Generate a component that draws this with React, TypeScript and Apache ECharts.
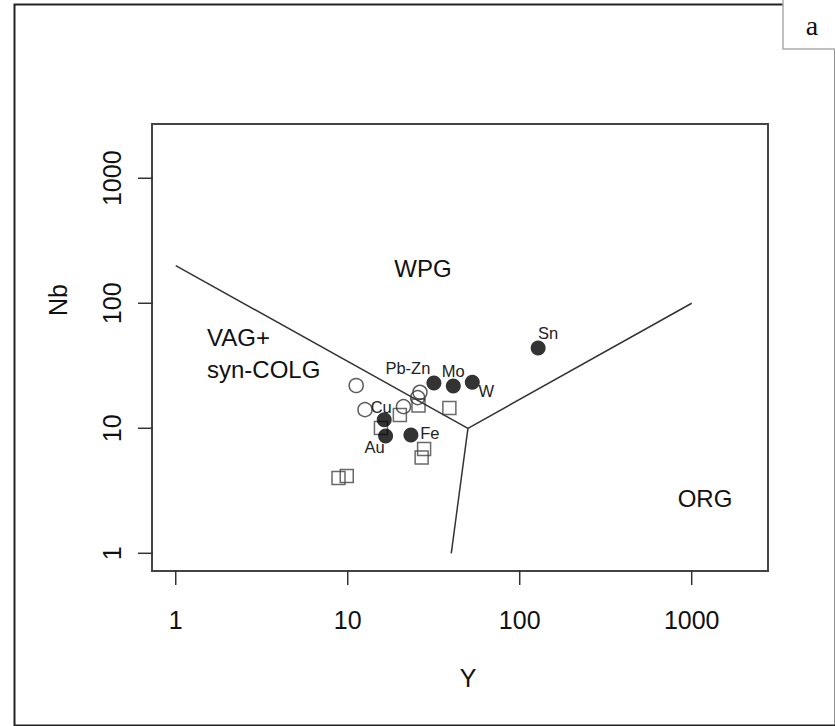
import React, { useEffect, useRef } from "react";
import * as echarts from "echarts";

// ---- Data (Y ppm, Nb ppm) ----
const filledNames = ["Sn", "Pb-Zn", "Mo", "W", "Cu", "Au", "Fe"];
const filledY = [128, 31.7, 41.1, 53, 16.3, 16.6, 23.3];
const filledNb = [43.9, 23.0, 21.8, 23.3, 11.7, 8.68, 8.84];

const openCircleY = [11.2, 12.6, 21.1, 26.3, 25.5];
const openCircleNb = [22.0, 14.1, 14.9, 19.4, 17.6];

const squareY = [15.6, 20.1, 25.8, 39.0, 27.8, 26.9, 8.84, 9.87];
const squareNb = [10.05, 12.8, 15.2, 14.5, 6.83, 5.84, 4.0, 4.15];

// Field boundaries (Pearce et al. 1984)
const boundaryUpper = [[1, 200], [50, 10], [1000, 100]];
const boundaryLower = [[50, 10], [40, 1]];

// Field names and anchor points
const fieldNames = ["WPG", "VAG+", "syn-COLG", "ORG"];
const fieldY = [27.4, 1.52, 1.52, 1195];
const fieldNb = [188, 52.8, 29.3, 2.72];

// Axis ticks
const xTicks = [1, 10, 100, 1000];
const yTicks = [1, 10, 100, 1000];
const tickLabels = ["1", "10", "100", "1000"];

// ---- Layout / style (not data) ----
const pointLabelOffsets = [[10, -15], [-26, -15], [0, -15], [14, 9], [-3, -13], [-11, 11], [19, -2]];
const fieldAlign = ["center", "left", "left", "center"];
const FONT = "'Liberation Sans', Arial, sans-serif";
const X_MIN = Math.pow(10, -0.138);
const X_MAX = Math.pow(10, 3.4436);
const Y_MIN = Math.pow(10, -0.1416);
const Y_MAX = Math.pow(10, 3.434);

export default function App() {
  const ref = useRef<HTMLDivElement>(null);
  useEffect(() => {
    if (!ref.current) return;
    const chart = echarts.init(ref.current, undefined, { renderer: "svg" });
    const option: any = {
      animation: false,
      backgroundColor: "#ffffff",
      grid: {
        left: 152, top: 124, width: 616, height: 447,
        show: true, borderColor: "#444", borderWidth: 2, backgroundColor: "transparent",
      },
      xAxis: {
        type: "log", logBase: 10, min: X_MIN, max: X_MAX,
        axisLine: { show: false }, axisTick: { show: false },
        axisLabel: { show: false }, splitLine: { show: false },
      },
      yAxis: {
        type: "log", logBase: 10, min: Y_MIN, max: Y_MAX,
        axisLine: { show: false }, axisTick: { show: false },
        axisLabel: { show: false }, splitLine: { show: false },
      },
      series: [
        {
          type: "line", data: boundaryUpper, showSymbol: false, silent: true,
          lineStyle: { color: "#333", width: 1.5 },
        },
        {
          type: "line", data: boundaryLower, showSymbol: false, silent: true,
          lineStyle: { color: "#333", width: 1.5 },
        },
        {
          type: "scatter", symbol: "rect", symbolSize: 13,
          data: squareY.map((v, i) => [v, squareNb[i]]),
          itemStyle: { color: "rgba(0,0,0,0)", borderColor: "#444", borderWidth: 1.5 },
        },
        {
          type: "scatter", symbol: "circle", symbolSize: 14,
          data: openCircleY.map((v, i) => [v, openCircleNb[i]]),
          itemStyle: { color: "rgba(0,0,0,0)", borderColor: "#333", borderWidth: 1.5 },
        },
        {
          type: "scatter", symbol: "circle", symbolSize: 15,
          data: filledY.map((v, i) => [v, filledNb[i]]),
          itemStyle: { color: "#000" },
        },
        {
          type: "custom", coordinateSystem: "cartesian2d", silent: true, clip: false,
          data: filledY.map((v, i) => [v, filledNb[i]]),
          renderItem: (params: any, api: any) => {
            const p = api.coord([api.value(0), api.value(1)]);
            const o = pointLabelOffsets[params.dataIndex];
            return {
              type: "text", x: p[0] + o[0], y: p[1] + o[1],
              style: {
                text: filledNames[params.dataIndex], fontSize: 16.5, fontFamily: FONT,
                fill: "#222", align: "center", verticalAlign: "middle",
              },
            };
          },
        },
        {
          type: "custom", coordinateSystem: "cartesian2d", silent: true, clip: false,
          data: fieldY.map((v, i) => [v, fieldNb[i]]),
          renderItem: (params: any, api: any) => {
            const p = api.coord([api.value(0), api.value(1)]);
            return {
              type: "text", x: p[0], y: p[1],
              style: {
                text: fieldNames[params.dataIndex], fontSize: 24, fontFamily: FONT,
                fill: "#111", align: fieldAlign[params.dataIndex], verticalAlign: "middle",
              },
            };
          },
        },
        {
          type: "custom", coordinateSystem: "cartesian2d", silent: true, clip: false,
          data: xTicks.map((v) => [v, Y_MIN]),
          renderItem: (params: any, api: any) => {
            const p = api.coord([api.value(0), api.value(1)]);
            const bottom = params.coordSys.y + params.coordSys.height;
            return {
              type: "group",
              children: [
                { type: "line", shape: { x1: p[0], y1: bottom - 1, x2: p[0], y2: bottom + 14 },
                  style: { stroke: "#333", lineWidth: 1.5 } },
                { type: "text", x: p[0], y: bottom + 49,
                  style: { text: tickLabels[params.dataIndex], fontSize: 25, fontFamily: FONT,
                    fill: "#111", align: "center", verticalAlign: "middle" } },
              ],
            };
          },
        },
        {
          type: "custom", coordinateSystem: "cartesian2d", silent: true, clip: false,
          data: yTicks.map((v) => [X_MIN, v]),
          renderItem: (params: any, api: any) => {
            const p = api.coord([api.value(0), api.value(1)]);
            const left = params.coordSys.x;
            return {
              type: "group",
              children: [
                { type: "line", shape: { x1: left + 1, y1: p[1], x2: left - 14, y2: p[1] },
                  style: { stroke: "#333", lineWidth: 1.5 } },
                { type: "text", x: left - 40, y: p[1], rotation: Math.PI / 2,
                  style: { text: tickLabels[params.dataIndex], fontSize: 25, fontFamily: FONT,
                    fill: "#111", align: "center", verticalAlign: "middle" } },
              ],
            };
          },
        },
      ],
      graphic: [
        { type: "rect", left: 12, top: 2, shape: { x: 0, y: 0, width: 821, height: 721 },
          style: { fill: "none", stroke: "#222", lineWidth: 2 }, silent: true },
        { type: "rect", shape: { x: 783, y: -2, width: 60, height: 51 },
          style: { fill: "#fff", stroke: "#aaa", lineWidth: 1.5 }, silent: true },
        { type: "text", x: 812, y: 25,
          style: { text: "a", fontSize: 28, fontFamily: "'Liberation Serif', 'Times New Roman', serif",
            fill: "#111", align: "center", verticalAlign: "middle" }, silent: true },
        { type: "text", x: 468, y: 678,
          style: { text: "Y", fontSize: 25, fontFamily: FONT, fill: "#111",
            align: "center", verticalAlign: "middle" }, silent: true },
        { type: "text", x: 58, y: 300, rotation: Math.PI / 2,
          style: { text: "Nb", fontSize: 25, fontFamily: FONT, fill: "#111",
            align: "center", verticalAlign: "middle" }, silent: true },
      ],
    };
    chart.setOption(option);
    return () => chart.dispose();
  }, []);
  return (
    <div
      ref={ref}
      style={{ position: "fixed", left: 0, top: 0, width: 835, height: 726 }}
    />
  );
}
